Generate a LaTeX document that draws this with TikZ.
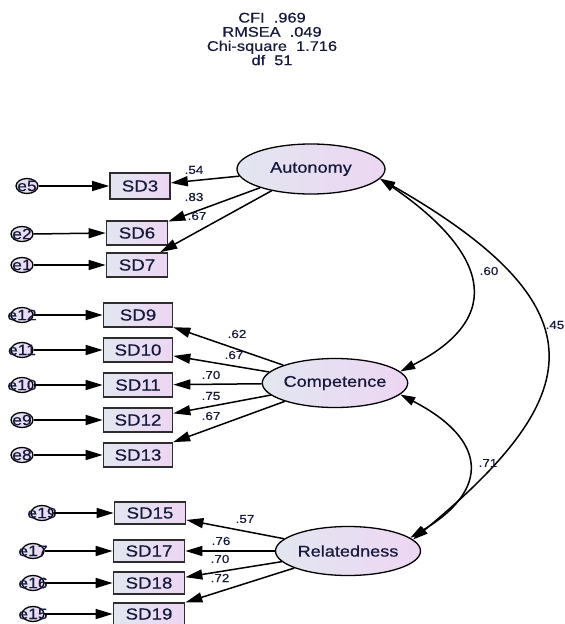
\documentclass[tikz,border=0pt]{standalone}
\usepackage{fontspec}
\setmainfont{Liberation Sans}[BoldFont={Liberation Sans}, BoldFeatures={FakeBold=0.5}]
\usetikzlibrary{shapes.geometric,arrows.meta}
\newcommand{\hsx}[1]{\scalebox{1.17}[1]{#1}}
\definecolor{txtc}{RGB}{22,25,60}
\definecolor{fillL}{RGB}{226,230,240}
\definecolor{fillR}{RGB}{237,214,243}
\definecolor{boxline}{RGB}{45,45,45}
\tikzset{
  latent/.style={ellipse, draw=black, line width=1.3pt, inner sep=0pt,
    left color=fillL, right color=fillR, text=txtc, font=\fontsize{15.5}{17}\selectfont\bfseries},
  obsbox/.style={rectangle, draw=boxline, line width=1.7pt, inner sep=0pt,
    left color=fillL, right color=fillR, text=txtc, font=\fontsize{16}{18}\selectfont\bfseries},
  errnode/.style={ellipse, draw=black, line width=1.3pt, inner sep=0pt,
    minimum width=22pt, minimum height=15pt,
    left color=fillL, right color=fillR, text=txtc, font=\fontsize{15}{17}\selectfont\bfseries},
  lbl/.style={text=txtc, font=\fontsize{11.5}{13}\selectfont\bfseries, inner sep=0pt},
  tip/.style={line width=1.5pt, -{Triangle[length=17pt,width=10pt]}},
  cov/.style={line width=1.5pt, {Triangle[length=15pt,width=9pt]}-{Triangle[length=15pt,width=9pt]}},
}
\begin{document}
\begin{tikzpicture}[x=1pt,y=-1pt]
\useasboundingbox (0,0) rectangle (565,624);
% header
\node[text=txtc, align=center, font=\fontsize{14}{14.2}\selectfont\bfseries, inner sep=0pt] (hdr) at (272,39)
  {\hsx{CFI\ \ .969}\\\hsx{RMSEA\ \ .049}\\\hsx{Chi-square\ \ 1.716}\\\hsx{df\ \ 51}};
% latent
\node[latent, minimum width=148pt, minimum height=50pt] (aut) at (311,169) {\hsx{Autonomy}};
\node[latent, minimum width=138pt, minimum height=49pt] (comp) at (335,383) {\hsx{Competence}};
\node[latent, minimum width=145pt, minimum height=49pt] (rel) at (348,551) {\hsx{Relatedness}};
% boxes
\node[obsbox, minimum width=60pt, minimum height=26pt] (sd3) at (140,186) {\hsx{SD3}};
\node[obsbox, minimum width=61pt, minimum height=24pt] (sd6) at (137,233) {\hsx{SD6}};
\node[obsbox, minimum width=61pt, minimum height=24pt] (sd7) at (137,265) {\hsx{SD7}};
\node[obsbox, minimum width=69pt, minimum height=24pt] (sd9) at (138,315) {\hsx{SD9}};
\node[obsbox, minimum width=69pt, minimum height=24pt] (sd10) at (138,350) {\hsx{SD10}};
\node[obsbox, minimum width=69pt, minimum height=24pt] (sd11) at (138,385) {\hsx{SD11}};
\node[obsbox, minimum width=69pt, minimum height=24pt] (sd12) at (138,420) {\hsx{SD12}};
\node[obsbox, minimum width=69pt, minimum height=24pt] (sd13) at (138,455) {\hsx{SD13}};
\node[obsbox, minimum width=71pt, minimum height=22pt] (sd15) at (150,513) {\hsx{SD15}};
\node[obsbox, minimum width=71pt, minimum height=22pt] (sd17) at (149,551) {\hsx{SD17}};
\node[obsbox, minimum width=71pt, minimum height=22pt] (sd18) at (149,583) {\hsx{SD18}};
\node[obsbox, minimum width=71pt, minimum height=22pt] (sd19) at (149,614) {\hsx{SD19}};
% errors
\node[errnode] (e5) at (27,186) {\makebox[0pt]{\hsx{e5}}};
\node[errnode] (e2) at (22,234) {\makebox[0pt]{\hsx{e2}}};
\node[errnode] (e1) at (22,265) {\makebox[0pt]{\hsx{e1}}};
\node[errnode] (e12) at (22,315) {\makebox[0pt]{\hsx{e12}}};
\node[errnode] (e11) at (22,350) {\makebox[0pt]{\hsx{e11}}};
\node[errnode] (e10) at (22,385) {\makebox[0pt]{\hsx{e10}}};
\node[errnode] (e9) at (22,420) {\makebox[0pt]{\hsx{e9}}};
\node[errnode] (e8) at (22,455) {\makebox[0pt]{\hsx{e8}}};
\node[errnode] (e19) at (42,513) {\makebox[0pt]{\hsx{e19}}};
\node[errnode] (e17) at (33,551) {\makebox[0pt]{\hsx{e17}}};
\node[errnode] (e16) at (33,583) {\makebox[0pt]{\hsx{e16}}};
\node[errnode] (e15) at (33,614) {\makebox[0pt]{\hsx{e15}}};
% error arrows
\foreach \e/\b in {e5/sd3,e2/sd6,e1/sd7,e12/sd9,e11/sd10,e10/sd11,e9/sd12,e8/sd13,e19/sd15,e17/sd17,e16/sd18,e15/sd19}
  \draw[tip] (\e.east) -- (\b.west);
% loadings
\foreach \l/\b in {aut/sd3,aut/sd6,aut/sd7,comp/sd9,comp/sd10,comp/sd11,comp/sd12,comp/sd13,rel/sd15,rel/sd17,rel/sd18,rel/sd19}
  \draw[tip] (\l) -- (\b);
% covariances
\draw[cov] (aut.-8) .. controls (470,240) and (520,310) .. (comp.10);
\draw[cov] (aut.-8) .. controls (608,309) and (584,398) .. (rel.10);
\draw[cov] (comp.-10) .. controls (488,440) and (490,490) .. (rel.12);
% labels
\node[lbl] (l1) at (194,170) {\hsx{.54}};
\node[lbl] (l2) at (194,197) {\hsx{.83}};
\node[lbl] (l3) at (197,216) {\hsx{.67}};
\node[lbl] (l4) at (237,334) {\hsx{.62}};
\node[lbl] (l5) at (234,355) {\hsx{.67}};
\node[lbl] (l6) at (211,375) {\hsx{.70}};
\node[lbl] (l7) at (211,396) {\hsx{.75}};
\node[lbl] (l8) at (211,416) {\hsx{.67}};
\node[lbl] (l9) at (245,519) {\hsx{.57}};
\node[lbl] (l10) at (221,541) {\hsx{.76}};
\node[lbl] (l11) at (220,559) {\hsx{.70}};
\node[lbl] (l12) at (220,578) {\hsx{.72}};
\node[lbl] (l13) at (489,271) {\hsx{.60}};
\node[lbl] (l14) at (488,463) {\hsx{.71}};
\node[lbl, anchor=east] (l15) at (564.5,325) {\hsx{.45}};
\end{tikzpicture}
\end{document}
